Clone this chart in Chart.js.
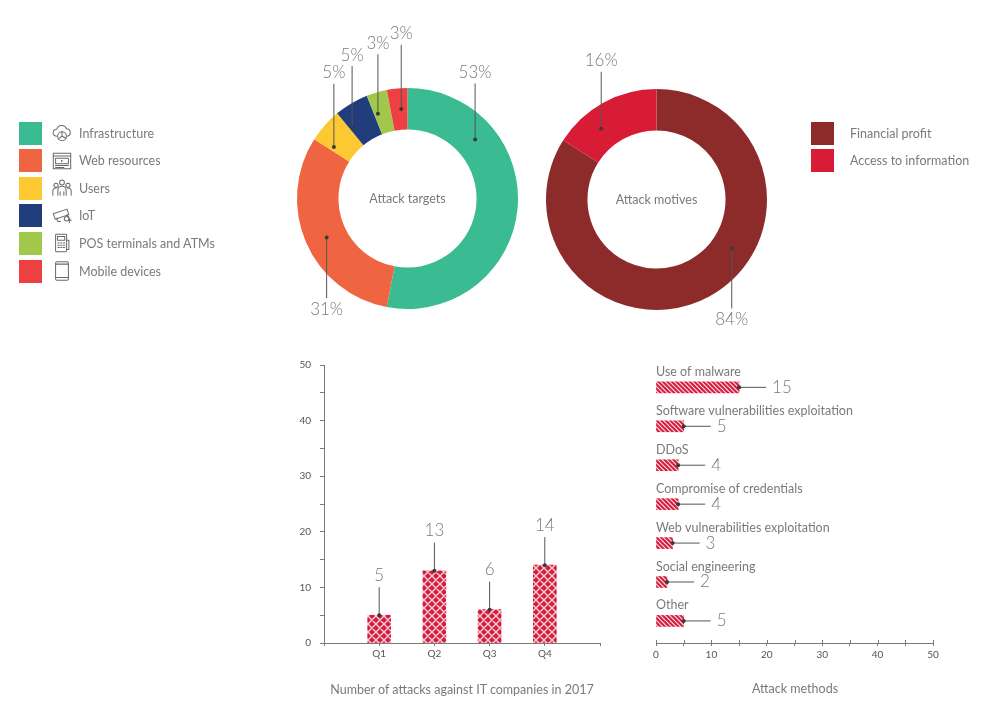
<!DOCTYPE html>
<html><head><meta charset="utf-8">
<script src="https://cdn.jsdelivr.net/npm/chart.js@4.4.1/dist/chart.umd.min.js"></script>
<style>
html,body{margin:0;padding:0;background:#fff;width:992px;height:718px;overflow:hidden;font-family:Lato,'Open Sans',sans-serif;}
canvas{position:absolute;left:0;top:0;pointer-events:none;}
.row{position:absolute;height:23px;display:flex;align-items:center;color:#7a7a7a;font-size:12.5px;font-weight:400;white-space:nowrap;}
.sw{width:23px;height:23px;flex:none;}
.ic{width:22px;height:22px;flex:none;margin-left:9px;margin-right:6px;}
.cap{position:absolute;color:#7a7a7a;font-size:12.5px;transform:translate(-50%,-50%);white-space:nowrap;}
</style></head><body>
<canvas id="c1" width="992" height="718"></canvas>
<canvas id="c2" width="992" height="718"></canvas>
<canvas id="c3" width="992" height="718"></canvas>
<canvas id="c4" width="992" height="718"></canvas>
<div id="legL"></div>
<div id="legR"></div>
<div class="cap" style="left:462px;top:689px">Number of attacks against IT companies in 2017</div>
<div class="cap" style="left:795px;top:688px">Attack methods</div>
<script>
// ---------- data ----------
const targetLabels = ['Infrastructure','Web resources','Users','IoT','POS terminals and ATMs','Mobile devices'];
const targetValues = [53,31,5,5,3,3];
const targetColors = ['#3bbb92','#f06541','#fcc933','#223d7b','#a2c84b','#ee4043'];

const motiveLabels = ['Financial profit','Access to information'];
const motiveValues = [84,16];
const motiveColors = ['#8c2b2a','#d81c35'];

const quarters = ['Q1','Q2','Q3','Q4'];
const quarterAttacks = [5,13,6,14];

const methods = ['Use of malware','Software vulnerabilities exploitation','DDoS','Compromise of credentials','Web vulnerabilities exploitation','Social engineering','Other'];
const methodCounts = [15,5,4,4,3,2,5];

const axisMin = 0, axisMax = 50, axisStep = 5, labelStep = 10;

// ---------- style ----------
const F = "Lato, 'Open Sans', sans-serif";
const TXT = '#7a7a7a', TICK = '#555', AX = '#7a7a7a', LEAD = '#555';
const BAR_RED = '#d21e3e';
Chart.defaults.font.family = F;

function crossPattern(){
  const s = 8, c = document.createElement('canvas'); c.width = s; c.height = s;
  const g = c.getContext('2d');
  g.fillStyle = BAR_RED; g.fillRect(0,0,s,s);
  g.strokeStyle = 'rgba(255,215,222,0.95)'; g.lineWidth = 1.4;
  g.beginPath();
  for (let k=-1;k<=1;k++){ g.moveTo(0,k*s); g.lineTo(s,s+k*s); g.moveTo(s,k*s); g.lineTo(0,s+k*s); }
  g.stroke();
  return g.createPattern(c,'repeat');
}
function stripePattern(){
  const s = 4.5, c = document.createElement('canvas'); c.width = 9; c.height = 9;
  const g = c.getContext('2d');
  g.fillStyle = BAR_RED; g.fillRect(0,0,9,9);
  g.strokeStyle = 'rgba(255,225,230,0.95)'; g.lineWidth = 1.2;
  g.beginPath();
  for (let k=-2;k<=2;k++){ g.moveTo(0,k*s); g.lineTo(9,9+k*s); }
  g.stroke();
  return g.createPattern(c,'repeat');
}

function dot(ctx,x,y){ ctx.beginPath(); ctx.arc(x,y,2,0,Math.PI*2); ctx.fillStyle='#3a3a3a'; ctx.fill(); }

// leader-line labels for doughnuts
const leaderPlugin = {
  id:'leaders',
  afterDatasetsDraw(chart, args, opts){
    const meta = chart.getDatasetMeta(0), ctx = chart.ctx;
    const vals = chart.data.datasets[0].data;
    ctx.save();
    meta.data.forEach((arc,i)=>{
      const p = arc.getProps(['x','y','startAngle','endAngle','innerRadius','outerRadius'], true);
      const a = p.startAngle + (p.endAngle-p.startAngle)*opts.fractions[i];
      const r = (p.innerRadius+p.outerRadius)/2;
      const px = p.x + Math.cos(a)*r, py = p.y + Math.sin(a)*r;
      const rise = opts.rise[i];
      const ty = py - rise;
      const ly = ty + (rise>0 ? 11 : -11);
      ctx.strokeStyle = LEAD; ctx.lineWidth = 1;
      ctx.beginPath(); ctx.moveTo(px,py); ctx.lineTo(px,ly); ctx.stroke();
      dot(ctx,px,py);
      ctx.fillStyle = TXT; ctx.font = '300 17px '+F;
      ctx.textAlign='center'; ctx.textBaseline='middle';
      ctx.fillText(vals[i]+'%', px, ty);
    });
    // centre caption
    const a0 = meta.data[0];
    ctx.fillStyle = TXT; ctx.font = '400 12.5px '+F;
    ctx.textAlign='center'; ctx.textBaseline='middle';
    ctx.fillText(opts.center, a0.x, a0.y);
    ctx.restore();
  }
};

function donut(id, values, colors, pad, fractions, rise, center){
  return new Chart(document.getElementById(id), {
    type:'doughnut',
    data:{ datasets:[{ data:values, backgroundColor:colors, borderWidth:0 }]},
    options:{
      responsive:false, animation:false, cutout:'62.5%',
      layout:{padding:pad},
      plugins:{legend:{display:false}, tooltip:{enabled:false}, leaders:{fractions, rise, center}}
    },
    plugins:[leaderPlugin]
  });
}

donut('c1', targetValues, targetColors, {left:297,right:474,top:88,bottom:409},
      [0.256,0.479,0.14,0.083,0.22,0.63], [67,-71.6,74.4,72.8,70.4,75], 'Attack targets');
donut('c2', motiveValues, motiveColors, {left:546,right:225,top:89,bottom:408},
      [0.407,0.34], [-71,68], 'Attack motives');

// vertical bar chart
const vBarLabels = {
  id:'vlabels',
  afterDatasetsDraw(chart){
    const ctx = chart.ctx, meta = chart.getDatasetMeta(0), ds = chart.data.datasets[0].data;
    ctx.save();
    meta.data.forEach((bar,i)=>{
      if (ds[i]==null) return;
      const x = bar.x, y = bar.y;
      ctx.strokeStyle = LEAD; ctx.lineWidth = 1;
      ctx.beginPath(); ctx.moveTo(x,y); ctx.lineTo(x,y-28); ctx.stroke();
      dot(ctx,x,y);
      ctx.fillStyle = TXT; ctx.font='300 17px '+F; ctx.textAlign='center'; ctx.textBaseline='middle';
      ctx.fillText(ds[i], x, y-40);
    });
    ctx.restore();
  }
};
const tickCb = v => (v % labelStep === 0 ? v : '');
new Chart(document.getElementById('c3'), {
  type:'bar',
  data:{ labels:['',...quarters,''], datasets:[{ data:[null,...quarterAttacks,null], backgroundColor:crossPattern(), barThickness:23, borderWidth:0 }]},
  options:{
    responsive:false, animation:false,
    layout:{padding:{left:294,right:392,top:365,bottom:55}},
    plugins:{legend:{display:false}, tooltip:{enabled:false}},
    scales:{
      x:{ offset:false, grid:{offset:false, drawOnChartArea:false, tickLength:3, color:AX}, border:{color:AX},
          ticks:{font:{size:10}, color:TICK, padding:2, autoSkip:false, maxRotation:0}, afterFit(s){ s.height=20; } },
      y:{ min:axisMin, max:axisMax, ticks:{stepSize:axisStep, callback:tickCb, font:{size:10}, color:TICK, padding:9},
          grid:{drawOnChartArea:false, tickLength:4, color:AX}, border:{color:AX}, afterFit(s){ s.width=30; } }
    }
  },
  plugins:[vBarLabels]
});

// horizontal bar chart
const hBarLabels = {
  id:'hlabels',
  afterDatasetsDraw(chart){
    const ctx = chart.ctx, meta = chart.getDatasetMeta(0), left = chart.chartArea.left;
    ctx.save();
    meta.data.forEach((bar,i)=>{
      const x = bar.x, y = bar.y;
      ctx.fillStyle = TXT; ctx.font='400 12.5px '+F; ctx.textAlign='left'; ctx.textBaseline='middle';
      ctx.fillText(methods[i], left, y-15.5);
      ctx.strokeStyle = LEAD; ctx.lineWidth = 1;
      ctx.beginPath(); ctx.moveTo(x,y); ctx.lineTo(x+27,y); ctx.stroke();
      dot(ctx,x,y);
      ctx.font='300 17px '+F; ctx.fillStyle = TXT;
      ctx.fillText(methodCounts[i], x+33, y);
    });
    // upper half of crossing ticks
    const xs = chart.scales.x, b = chart.chartArea.bottom;
    ctx.strokeStyle = AX; ctx.lineWidth = 1;
    xs.ticks.forEach(t=>{ const px = Math.round(xs.getPixelForValue(t.value))+0.5; ctx.beginPath(); ctx.moveTo(px,b-3); ctx.lineTo(px,b); ctx.stroke(); });
    ctx.restore();
  }
};
new Chart(document.getElementById('c4'), {
  type:'bar',
  data:{ datasets:[{ data:methodCounts.map((v,i)=>({x:v,y:i})), backgroundColor:stripePattern(), barThickness:11, borderWidth:0 }]},
  options:{
    indexAxis:'y', responsive:false, animation:false,
    layout:{padding:{left:656,right:59,top:364,bottom:50}},
    plugins:{legend:{display:false}, tooltip:{enabled:false}},
    scales:{
      x:{ type:'linear', min:axisMin, max:axisMax, ticks:{stepSize:axisStep, callback:tickCb, font:{size:10}, color:TICK, padding:3},
          grid:{drawOnChartArea:false, tickLength:3, color:AX}, border:{color:AX}, afterFit(s){ s.height=25; } },
      y:{ type:'linear', reverse:true, offset:false, min:-0.6, max:6.567, display:false }
    }
  },
  plugins:[hBarLabels]
});

// ---------- HTML legends ----------
const S = 'fill="none" stroke="#6a6a6a" stroke-width="1.1" stroke-linejoin="round" stroke-linecap="round"';
const icons = [
  `<svg class="ic" viewBox="0 0 24 24"><path ${S} d="M6 15.5a3.8 3.8 0 0 1 0.3-7.6a5.6 5.6 0 0 1 10.6-0.6a4.2 4.2 0 0 1 1.2 8.2"/><circle ${S} cx="12" cy="15.5" r="4.8"/><path ${S} d="M12 15.5V10.7M12 15.5l4.3 2.2M12 15.5l-3.8 3"/></svg>`,
  `<svg class="ic" viewBox="0 0 24 24"><rect ${S} x="2.5" y="3.5" width="19" height="17"/><path ${S} d="M2.5 6.5h19M5 9h14v6H5zM5 17h14M5 19h9"/><path fill="#6a6a6a" d="M11 10.6v2.8l2.4-1.4z"/></svg>`,
  `<svg class="ic" viewBox="0 0 24 24"><circle ${S} cx="12" cy="6" r="2.6"/><circle ${S} cx="5.5" cy="9" r="2.3"/><circle ${S} cx="18.5" cy="9" r="2.3"/><path ${S} d="M7.5 20v-6a4.5 4 0 0 1 9 0v6M2 20v-5a3.5 3 0 0 1 4-3M22 20v-5a3.5 3 0 0 0-4-3M10 20v-4M14 20v-4"/></svg>`,
  `<svg class="ic" viewBox="0 0 24 24"><path ${S} d="M2.5 9.5l15-5 2 6-15 5zM6 14.5l1.5 3.5h3M17.5 10.5l2.5 4v4.5M20 16.5h2"/><circle ${S} cx="17" cy="15" r="2.5"/></svg>`,
  `<svg class="ic" viewBox="0 0 24 24"><rect ${S} x="5" y="2.5" width="12" height="19" rx="1"/><rect ${S} x="7" y="5" width="8" height="4"/><path ${S} d="M17 9h2.5v10H17M7.5 12h1.5M10.5 12h1.5M13.5 12h1.5M7.5 14.5h1.5M10.5 14.5h1.5M13.5 14.5h1.5M7.5 17h1.5M10.5 17h1.5M13.5 17h1.5"/></svg>`,
  `<svg class="ic" viewBox="0 0 24 24"><rect ${S} x="5" y="2" width="14" height="20" rx="1.5"/><path ${S} d="M5 4.5h14M5 19h14"/></svg>`
];
const legL = document.getElementById('legL');
targetLabels.forEach((lab,i)=>{
  const d = document.createElement('div'); d.className='row';
  d.style.left='19px'; d.style.top=(121.5+i*27.6)+'px';
  d.innerHTML = `<div class="sw" style="background:${targetColors[i]}"></div>${icons[i]}<span>${lab}</span>`;
  legL.appendChild(d);
});
const legR = document.getElementById('legR');
motiveLabels.forEach((lab,i)=>{
  const d = document.createElement('div'); d.className='row';
  d.style.left='811px'; d.style.top=(121.5+i*27.6)+'px';
  d.innerHTML = `<div class="sw" style="background:${motiveColors[i]};margin-right:16px"></div><span>${lab}</span>`;
  legR.appendChild(d);
});
</script>
</body></html>
